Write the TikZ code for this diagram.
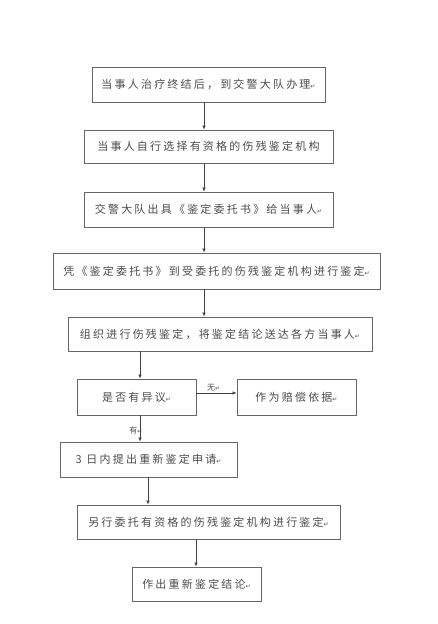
\documentclass[tikz,border=0pt]{standalone}
\usepackage{fontspec}
\newfontfamily\cjk[LetterSpace=20]{Noto Sans CJK SC}
\newfontfamily\djv{DejaVu Sans}
\usetikzlibrary{arrows.meta}
\newcommand\parmark{{\djv\fontsize{6}{6}\selectfont ↵}}
\begin{document}
\begin{tikzpicture}[x=1pt,y=-1pt,
  box/.style={draw=black!60, line width=0.8pt, inner sep=0pt, font=\cjk\fontsize{11}{13}\selectfont, text=black!70},
  arr/.style={draw=black!75, line width=0.7pt, -{Latex[length=4pt,width=3.5pt]}},
  lab/.style={font=\cjk\fontsize{8}{9}\selectfont, text=black!70, inner sep=1pt}]
\useasboundingbox[fill=white] (0,0) rectangle (438,624);
\node[box, minimum width=233pt, minimum height=35pt] (b1) at (208.5,84.5) {当事人治疗终结后，到交警大队办理\parmark};
\node[box, minimum width=249pt, minimum height=33pt] (b2) at (208.5,146.5) {当事人自行选择有资格的伤残鉴定机构};
\node[box, minimum width=249pt, minimum height=35pt] (b3) at (208.5,209.5) {交警大队出具《鉴定委托书》给当事人\parmark};
\node[box, minimum width=327pt, minimum height=36pt] (b4) at (216.5,271) {凭《鉴定委托书》到受委托的伤残鉴定机构进行鉴定\parmark};
\node[box, minimum width=304pt, minimum height=34pt] (b5) at (220,334) {组织进行伤残鉴定，将鉴定结论送达各方当事人\parmark};
\node[box, minimum width=119pt, minimum height=36pt] (b6) at (136.5,397) {是否有异议\parmark};
\node[box, minimum width=119pt, minimum height=36pt] (b7) at (296.5,397) {作为赔偿依据\parmark};
\node[box, minimum width=177pt, minimum height=35pt] (b8) at (148.5,459.5) {3 日内提出重新鉴定申请\parmark};
\node[box, minimum width=263pt, minimum height=34pt] (b9) at (208.5,522) {另行委托有资格的伤残鉴定机构进行鉴定\parmark};
\node[box, minimum width=129pt, minimum height=34pt] (b10) at (196.5,584) {作出重新鉴定结论\parmark};
\coordinate (xa) at (204,0);
\coordinate (xb) at (140,0);
\coordinate (xc) at (148,0);
\coordinate (xd) at (196,0);
\coordinate (ya) at (0,393);
\draw[arr] (b1.south -| xa) -- (b2.north -| xa);
\draw[arr] (b2.south -| xa) -- (b3.north -| xa);
\draw[arr] (b3.south -| xa) -- (b4.north -| xa);
\draw[arr] (b4.south -| xa) -- (b5.north -| xa);
\draw[arr] (b5.south -| xb) -- (b6.north -| xb);
\draw[arr] (b6.south -| xb) -- (b8.north -| xb);
\draw[arr] (b8.south -| xc) -- (b9.north -| xc);
\draw[arr] (b9.south -| xd) -- (b10.north -| xd);
\draw[arr] (b6.east |- ya) -- (b7.west |- ya);
\node[lab, anchor=south west] (l1) at (206,392) {无\parmark};
\node[lab] (l2) at (136,430) {有\parmark};
\end{tikzpicture}
\end{document}
